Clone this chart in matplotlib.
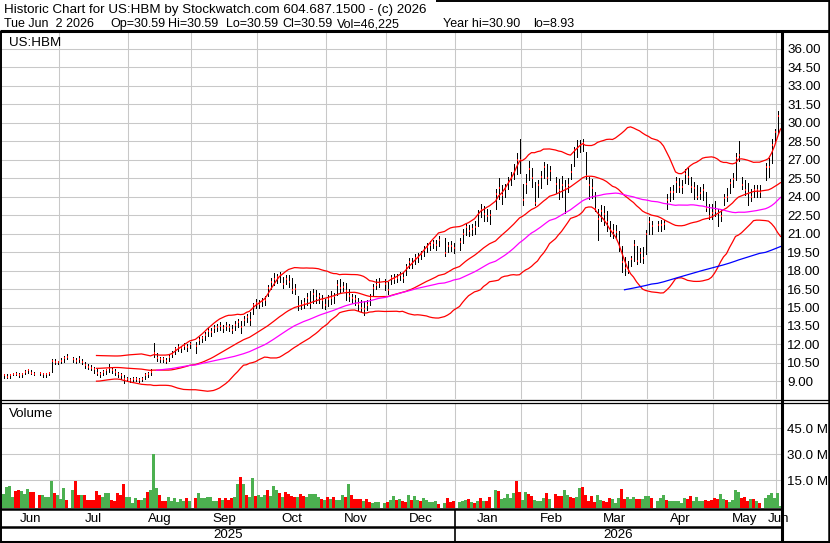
import matplotlib
matplotlib.use("Agg")
import matplotlib.pyplot as plt
import numpy as np
import pandas as pd

plt.rcParams["font.family"] = ["Liberation Sans", "DejaVu Sans"]
plt.rcParams["font.size"] = 9.6

# --- quote header ---
TICKER = "US:HBM"
HEADER_1 = "Historic Chart for US:HBM by Stockwatch.com 604.687.1500 - (c) 2026"
HEADER_2 = ["Tue Jun  2 2026", "Op=30.59", "Hi=30.59", "Lo=30.59", "Cl=30.59",
            "Vol=46,225", "Year hi=30.90", "lo=8.93"]

# --- calendar: one slot per weekday, holidays stay empty ---
FIRST_DAY = "2025-06-04"
LAST_DAY = "2026-06-02"
HOLIDAYS = ["2025-06-19", "2025-07-04", "2025-09-01", "2025-11-27", "2025-12-25",
            "2026-01-01", "2026-01-19", "2026-02-16", "2026-04-03", "2026-05-25"]

# --- daily prices ---
CLOSE = [
    9.5, 9.4, 9.5, 9.6, 9.6, 9.5, 9.6, 9.8, 9.9, 9.7,
    9.6, 9.7, 9.6, 9.6, 9.7, 10.7, 10.6, 10.6, 10.7, 10.9,
    11.0, 10.8, 10.7, 10.8, 10.6, 10.3, 10.2, 10.1, 10.0, 9.7,
    9.6, 9.8, 9.9, 10.1, 9.9, 9.8, 9.6, 9.5, 9.2, 9.2,
    9.1, 9.2, 9.2, 9.1, 9.2, 9.5, 9.6, 9.8, 11.3, 10.9,
    10.8, 10.8, 10.7, 11.0, 11.2, 11.6, 11.8, 11.7, 11.9, 11.8,
    12.0, 11.9, 12.4, 12.5, 12.8, 13.1, 13.0, 13.3, 13.4, 13.5,
    13.3, 13.5, 13.4, 13.2, 13.6, 13.8, 13.4, 14.0, 14.2, 14.0,
    15.2, 15.4, 15.3, 15.5, 15.6, 16.6, 17.1, 17.3, 17.5, 17.6,
    16.9, 17.3, 17.1, 16.4, 16.5, 15.1, 15.2, 15.4, 15.8, 15.4,
    16.1, 15.8, 15.9, 15.6, 15.2, 15.7, 15.8, 15.9, 16.8, 16.6,
    16.7, 16.3, 15.9, 15.8, 15.7, 15.3, 15.0, 14.9, 15.2, 15.8,
    16.6, 16.8, 17.0, 16.9, 16.4, 17.4, 17.3, 17.4, 17.6, 17.4,
    18.3, 18.7, 18.6, 19.0, 19.1, 19.3, 19.7, 19.9, 20.1, 20.2,
    20.1, 20.5, 19.4, 20.0, 20.0, 19.8, 20.3, 21.0, 21.5, 21.2,
    21.4, 21.5, 22.6, 22.9, 22.6, 22.4, 22.5, 24.2, 24.7, 24.1,
    24.6, 25.2, 25.5, 26.0, 27.0, 27.0, 23.7, 25.0, 26.2, 25.5,
    23.5, 24.9, 25.6, 26.4, 25.5, 26.1, 25.0, 24.5, 24.9, 24.7,
    24.9, 26.0, 27.8, 27.9, 28.2, 28.3, 25.7, 24.9, 24.7, 23.0,
    22.2, 22.8, 22.6, 21.9, 21.3, 21.2, 21.1, 19.9, 18.7, 18.2,
    18.0, 18.9, 20.1, 18.8, 19.4, 19.0, 21.0, 21.9, 21.6, 21.7,
    21.7, 21.8, 23.7, 24.4, 24.4, 25.2, 24.8, 24.8, 25.8, 25.6,
    24.8, 24.7, 24.0, 24.3, 24.5, 23.1, 22.4, 22.7, 22.8, 22.7,
    22.4, 23.9, 24.0, 25.1, 25.4, 27.1, 27.4, 24.9, 24.5, 24.3,
    24.0, 24.5, 24.5, 24.4, 26.4, 26.4, 28.2, 29.2, 30.5, 30.59,
]
HIGH = [
    9.6, 9.6, 9.6, 9.7, 9.8, 9.7, 9.7, 9.9, 10.0, 9.9,
    9.8, 9.8, 9.7, 9.7, 9.8, 10.8, 10.8, 10.7, 10.9, 11.1,
    11.2, 11.0, 10.9, 11.1, 10.8, 10.6, 10.4, 10.3, 10.2, 10.0,
    9.8, 9.9, 10.0, 10.4, 10.1, 10.0, 9.8, 9.7, 9.5, 9.4,
    9.3, 9.4, 9.4, 9.3, 9.4, 9.7, 9.8, 10.0, 12.1, 11.3,
    11.0, 11.0, 10.9, 11.2, 11.5, 11.8, 12.0, 11.9, 12.1, 12.0,
    12.2, 12.2, 12.6, 12.7, 13.0, 13.3, 13.3, 13.6, 13.7, 13.8,
    13.6, 13.8, 13.7, 13.6, 13.9, 14.1, 13.9, 14.3, 14.5, 14.6,
    15.4, 15.7, 15.6, 15.8, 15.9, 16.8, 17.4, 17.8, 17.7, 17.9,
    17.5, 17.6, 17.6, 17.4, 16.9, 15.9, 15.6, 15.8, 16.2, 16.3,
    16.5, 16.4, 16.2, 16.0, 15.7, 16.0, 16.3, 16.2, 17.2, 17.3,
    17.1, 17.0, 16.5, 16.1, 16.0, 15.8, 15.6, 15.5, 15.6, 16.1,
    16.9, 17.3, 17.4, 17.3, 17.1, 17.6, 17.7, 17.7, 17.9, 17.8,
    18.5, 19.0, 19.0, 19.3, 19.4, 19.6, 20.0, 20.2, 20.4, 20.5,
    20.5, 20.8, 20.6, 20.3, 20.4, 20.2, 20.6, 21.4, 21.8, 21.7,
    21.8, 22.0, 22.9, 23.4, 23.2, 23.0, 22.9, 24.6, 25.5, 24.9,
    25.0, 25.6, 26.0, 26.6, 27.5, 28.7, 25.0, 25.8, 26.9, 26.3,
    25.2, 25.3, 26.1, 26.8, 26.6, 26.5, 25.6, 25.4, 25.7, 25.3,
    25.5, 26.6, 28.0, 28.6, 28.6, 28.7, 27.6, 25.6, 25.4, 24.4,
    23.0, 23.3, 23.2, 22.8, 22.0, 21.8, 21.7, 21.2, 20.0, 19.1,
    18.8, 19.2, 20.5, 20.0, 19.8, 19.9, 21.3, 22.3, 22.0, 22.0,
    22.1, 22.1, 24.2, 24.8, 24.9, 25.6, 25.5, 25.3, 26.2, 26.3,
    25.6, 25.2, 24.9, 24.8, 25.0, 24.4, 23.4, 23.4, 23.6, 23.0,
    23.0, 24.2, 24.7, 25.4, 25.9, 27.5, 28.5, 25.6, 25.3, 25.1,
    24.6, 24.9, 24.9, 24.9, 26.7, 27.1, 28.7, 29.5, 30.9, 30.59,
]
LOW = [
    9.3, 9.3, 9.3, 9.5, 9.5, 9.4, 9.4, 9.6, 9.7, 9.6,
    9.5, 9.5, 9.4, 9.4, 9.5, 9.8, 10.4, 10.4, 10.5, 10.6,
    10.8, 10.6, 10.5, 10.6, 10.4, 10.1, 10.0, 9.9, 9.7, 9.5,
    9.4, 9.5, 9.6, 9.8, 9.7, 9.5, 9.4, 9.2, 8.9, 9.0,
    8.93, 9.0, 9.0, 8.95, 9.0, 9.2, 9.4, 9.5, 11.0, 10.7,
    10.6, 10.6, 10.5, 10.7, 11.0, 11.2, 11.5, 11.4, 11.6, 11.5,
    11.7, 11.3, 12.0, 12.2, 12.4, 12.7, 12.7, 13.0, 13.1, 13.2,
    13.0, 13.2, 13.1, 12.9, 13.2, 13.4, 12.9, 13.6, 13.8, 13.6,
    14.5, 15.0, 15.0, 15.1, 15.2, 15.9, 16.5, 16.8, 17.0, 17.1,
    16.6, 16.9, 16.7, 16.2, 16.1, 14.8, 14.9, 15.0, 15.2, 15.0,
    15.4, 15.4, 15.4, 15.0, 14.9, 15.1, 15.3, 15.4, 16.0, 16.2,
    16.3, 15.6, 15.5, 15.4, 15.2, 14.8, 14.6, 14.4, 14.8, 15.2,
    16.0, 16.5, 16.7, 16.4, 16.1, 16.9, 17.0, 17.1, 17.2, 17.1,
    17.6, 18.2, 18.2, 18.5, 18.7, 18.9, 19.2, 19.5, 19.7, 19.8,
    19.7, 20.0, 19.2, 19.5, 19.6, 19.4, 19.7, 20.2, 20.9, 20.8,
    20.9, 21.0, 21.6, 22.3, 22.0, 22.0, 21.8, 23.0, 23.8, 23.4,
    24.0, 24.6, 24.9, 25.4, 25.8, 25.9, 23.3, 24.3, 25.3, 24.8,
    23.3, 24.0, 24.7, 25.5, 25.0, 25.3, 24.3, 23.8, 24.0, 22.7,
    24.4, 25.4, 26.5, 27.2, 27.6, 27.7, 25.4, 23.8, 23.9, 22.8,
    20.5, 22.0, 21.7, 21.2, 20.8, 20.6, 20.6, 19.6, 17.9, 17.6,
    17.8, 18.4, 18.8, 18.5, 18.7, 18.6, 19.3, 21.0, 21.0, 21.2,
    21.2, 21.4, 23.0, 23.6, 23.8, 24.4, 24.4, 24.3, 25.1, 25.0,
    24.4, 23.8, 23.8, 23.8, 23.7, 22.8, 22.2, 22.2, 22.4, 21.6,
    22.0, 23.3, 23.6, 24.3, 24.8, 25.3, 26.9, 24.6, 24.1, 23.3,
    23.6, 24.0, 24.0, 24.0, 25.3, 25.6, 26.7, 28.5, 29.1, 30.59,
]

# --- daily volume in millions, and whether the day was up (G) or down (R) ---
VOLUME_M = [
    7.0, 11.2, 11.6, 5.4, 8.5, 9.1, 8.5, 7.1, 9.9, 7.9, 7.9,
    6.5, 6.4, 5.4, 5.4, 14.7, 7.5, 6.5, 3.9, 10.4, 3.5,
    9.1, 14.7, 6.3, 6.4, 6.3, 3.5, 3.5, 3.7, 8.5, 6.3,
    5.4, 7.5, 7.5, 3.5, 3.1, 7.5, 6.4, 12.7, 5.4, 5.0,
    1.5, 4.4, 3.5, 3.5, 4.4, 7.9, 9.1, 30.1, 10.4, 6.3,
    3.1, 3.1, 5.0, 3.1, 4.4, 2.5, 3.9, 3.1, 4.4, 3.1,
    4.4, 7.5, 4.4, 4.4, 5.0, 5.0, 3.1, 3.1, 4.4, 3.5,
    4.4, 3.5, 4.4, 5.4, 12.7, 17.0, 12.5, 6.4, 5.4, 16.0,
    6.0, 6.4, 5.0, 6.4, 9.0, 6.0, 11.5, 9.0, 7.5, 5.4,
    8.0, 7.0, 6.0, 5.4, 5.0, 7.0, 6.0, 5.4, 6.8, 7.0,
    7.0, 5.0, 4.0, 3.5, 5.0, 4.2, 5.4, 3.5, 3.5, 6.4,
    5.4, 12.9, 6.4, 4.0, 4.0, 4.2, 3.0, 4.0, 2.5, 1.5,
    2.3, 2.0, 1.5, 2.5, 3.5, 5.8, 3.5, 4.0, 2.9, 2.3,
    6.4, 3.5, 6.0, 3.5, 3.1, 4.6, 3.5, 2.5, 2.5, 2.9,
    1.2, 1.6, 4.6, 2.5, 2.9, 2.5, 2.9, 3.5, 4.1, 2.3,
    1.7, 2.9, 4.6, 2.9, 2.9, 5.2, 9.3, 8.7, 4.1, 4.6,
    6.8, 4.6, 7.5, 14.5, 8.1, 3.5, 8.1, 6.8, 5.8, 3.5,
    2.9, 2.9, 4.6, 7.5, 4.1, 6.8, 5.8, 5.8, 9.3, 6.4,
    5.0, 4.8, 5.4, 10.6, 11.2, 6.4, 3.0, 5.8, 2.5, 6.1,
    3.5, 3.0, 2.5, 4.8, 3.9, 1.5, 4.8, 10.0, 4.1, 5.2,
    4.3, 5.2, 4.1, 4.1, 4.1, 5.8, 5.8, 4.8, 3.0, 4.6,
    6.4, 3.5, 3.0, 2.7, 3.0, 3.0, 1.9, 4.4, 4.3, 5.8,
    3.0, 5.4, 2.9, 2.7, 3.5, 3.0, 3.5, 4.6, 4.3, 7.0,
    4.1, 3.5, 2.3, 3.5, 9.3, 8.1, 4.8, 5.2, 3.0, 3.9,
    4.1, 3.0, 1.5, 4.8, 6.4, 7.3, 4.6, 7.3, 0.05,
]
VOLUME_DIR = ("GGGGRRGGGRR" "RGGGGRGGGR" "GRRGRRRRRR" "GGGRRRRRGG" "GGRGGRGGGR"
              "RRGGGGGGRG" "RGGGGGGGRG" "RRRGGRGRGG" "RGGGRGGGRG" "RRRRGRRGGG"
              "GGRGRGRGGG" "RGRRRRGRRG" "GGGRGGRGRR" "GRGGRGGGGG" "RGRRRGGGRG"
              "RGRGRRGRGG" "GGGRRGGRRG" "GGGRGRRRGG" "RRGGRRRRRG" "GRRRGGGRRG"
              "GGRRGGGRGG" "GRGGGGGGRR" "GGGGRRRRRG" "GRGGGGRRRG" "RGRGGGGGG")

PRICE_TICKS = np.arange(9.0, 36.01, 1.5)
VOLUME_TICKS = [15, 30, 45]

BAND_WINDOW = 30     # red bollinger band + middle line
MID_WINDOW = 50      # magenta
LONG_WINDOW = 200    # blue

RED = "#ff0000"
MAGENTA = "#ff00ff"
BLUE = "#0000ff"
GREEN = "#4cb050"
GRID = "#c8c8c8"

W, H = 830, 543
fig = plt.figure(figsize=(W / 100, H / 100), dpi=100)


def px_axes(x0, y0, x1, y1, **kw):
    """Axes placed by pixel box (y measured from the top)."""
    return fig.add_axes([x0 / W, 1 - y1 / H, (x1 - x0) / W, (y1 - y0) / H], **kw)


slots = pd.bdate_range(FIRST_DAY, LAST_DAY)
trading = ~slots.isin(pd.to_datetime(HOLIDAYS))
xs = np.flatnonzero(trading)

close = pd.Series(CLOSE, dtype=float)
mid = close.rolling(BAND_WINDOW).mean()
sd = close.rolling(BAND_WINDOW).std(ddof=0)
upper, lower = mid + 2 * sd, mid - 2 * sd
ma_mid = close.rolling(MID_WINDOW).mean()
ma_long = close.rolling(LONG_WINDOW).mean()

months = slots.to_period("M")
month_first = np.flatnonzero(np.r_[True, months[1:] != months[:-1]])
month_edges = month_first - 0.5
month_ends = np.r_[month_first[1:], len(slots)] - 0.5

XLIM = (-0.5, -0.5 + 779 / 3)

ax_p = px_axes(2, 33, 781, 399)
ax_v = px_axes(2, 403, 781, 508, sharex=ax_p)
ax_m = px_axes(2, 509, 781, 527, sharex=ax_p)
ax_y = px_axes(2, 528, 781, 541, sharex=ax_p)

for ax in (ax_p, ax_v, ax_m, ax_y):
    for s in ax.spines.values():
        s.set_visible(False)
    ax.set_xlim(*XLIM)
    ax.tick_params(length=0, labelbottom=False, labelleft=False)
for ax in (ax_m, ax_y):
    ax.set_xticks([])
    ax.set_yticks([])

# --- price panel ---
ax_p.set_ylim(7.58, 37.26)
ax_p.set_xticks(month_edges[1:])
ax_p.set_yticks(PRICE_TICKS)
ax_p.set_yticklabels([f"{v:.2f}" for v in PRICE_TICKS])
ax_p.yaxis.tick_right()
ax_p.tick_params(axis="y", length=0, pad=4.5, labelright=True)
ax_p.grid(True, color=GRID, lw=0.75)
ax_p.set_axisbelow(True)

ax_p.vlines(xs, LOW, HIGH, color="black", lw=0.72, antialiased=False, zorder=2)
ax_p.hlines(CLOSE, xs, xs + 0.6, color=RED, lw=1.44, antialiased=False, zorder=3)
for series, color in ((upper, RED), (mid, RED), (lower, RED),
                      (ma_mid, MAGENTA), (ma_long, BLUE)):
    ax_p.plot(xs, series, color=color, lw=0.9, zorder=4)

# --- volume panel ---
VOL_FLOOR = -1.2
ax_v.set_ylim(VOL_FLOOR, 59.6)
ax_v.set_xticks(month_edges[1:])
ax_v.set_yticks(VOLUME_TICKS)
ax_v.set_yticklabels([f"{v:.1f} M" for v in VOLUME_TICKS])
ax_v.yaxis.tick_right()
ax_v.tick_params(axis="y", length=0, pad=4.5, labelright=True)
ax_v.grid(True, color=GRID, lw=0.75)
ax_v.set_axisbelow(True)
vol_colors = [GREEN if d == "G" else RED for d in VOLUME_DIR]
ax_v.bar(xs, np.array(VOLUME_M) - VOL_FLOOR, bottom=VOL_FLOOR, width=0.68,
         color=vol_colors, linewidth=0, zorder=2)

# --- month and year bands ---
for first, end in zip(month_first, month_ends):
    ax_m.text((first - 0.5 + end) / 2, 0.45, slots[first].strftime("%b"),
              transform=ax_m.get_xaxis_transform(), ha="center", va="center")
years = slots.year
year_first = np.flatnonzero(np.r_[True, years[1:] != years[:-1]])
year_ends = np.r_[year_first[1:], len(slots)] - 0.5
for first, end in zip(year_first, year_ends):
    ax_y.text((first - 0.5 + end) / 2, 0.5, str(years[first]),
              transform=ax_y.get_xaxis_transform(), ha="center", va="center")
for edge in year_first[1:] - 0.5:
    for ax in (ax_m, ax_y):
        ax.axvline(edge, color="black", lw=1.2)

# --- frame, header and panel captions (pixel overlay) ---
ov = fig.add_axes([0, 0, 1, 1], zorder=10)
ov.set_xlim(0, W)
ov.set_ylim(H, 0)
ov.axis("off")
frame = [
    ((0.7, 0.7), (31, H), 1.4),
    ((0, W), (31, 31), 2.2),
    ((436, W), (0.7, 0.7), 1.4),
    ((W - 1.2, W - 1.2), (0, H), 1.8),
    ((0, W), (H - 1.2, H - 1.2), 2.2),
    ((781.8, 781.8), (31, H), 2.2),
    ((0, W), (400.3, 400.3), 0.9),
    ((0, W), (402.6, 402.6), 0.9),
    ((0, 782), (508.6, 508.6), 1.8),
    ((0, 782), (527, 527), 1.8),
]
for xx, yy, lw in frame:
    ov.plot(xx, yy, color="black", lw=lw, solid_capstyle="butt")
ov.text(4, 13.3, HEADER_1, va="baseline", ha="left")
for x_px, field in zip([4, 110, 168, 226, 282, 337, 443, 533], HEADER_2):
    ov.text(x_px, 27.3, field, va="baseline", ha="left", fontsize=9)
ov.text(9, 46, TICKER, va="baseline", ha="left")
ov.text(9, 417, "Volume", va="baseline", ha="left")

fig.savefig("out.png", dpi=100)
